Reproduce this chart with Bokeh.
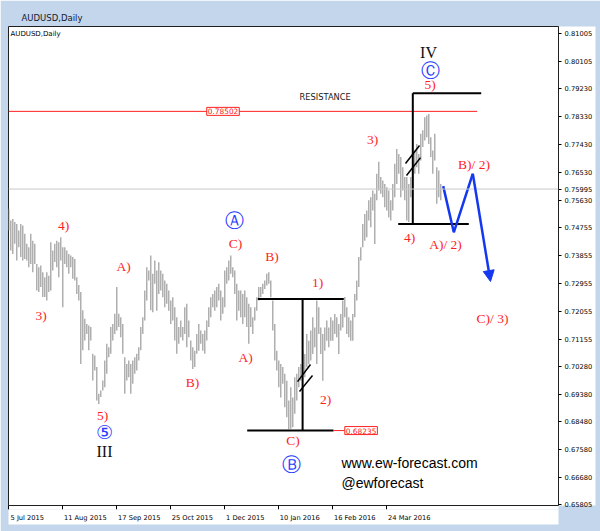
from bokeh.plotting import figure
from bokeh.models import (Range1d, FixedTicker, PrintfTickFormatter, Label, LinearAxis,
                          Arrow, NormalHead, ColumnDataSource, Span)
from bokeh.core.properties import value
from bokeh.embed import file_html
from bokeh.resources import INLINE

# ---------------- data (AUDUSD daily bars) ----------------
highs_1 = [0.7536, 0.7498, 0.7503, 0.7493, 0.7487, 0.7466, 0.7487, 0.7482, 0.7455, 0.7423,
           0.7412, 0.7455, 0.7433, 0.7423, 0.7358, 0.7347, 0.7353, 0.7331, 0.7315, 0.7331,
           0.7320, 0.7428, 0.7401, 0.7423, 0.7433, 0.7428, 0.7444, 0.7412, 0.7412, 0.7401,
           0.7390, 0.7385, 0.7380, 0.7374, 0.7315, 0.7290, 0.7267, 0.7208, 0.7181, 0.7164,
           0.7159, 0.7154, 0.7068, 0.7062, 0.7025, 0.6939, 0.6949, 0.6982, 0.7046, 0.7100,
           0.7089, 0.7154, 0.7164, 0.7197, 0.7283, 0.7197, 0.7186, 0.7164, 0.7057, 0.7035,
           0.7046, 0.7035, 0.7046, 0.7057, 0.7068, 0.7089, 0.7154, 0.7186, 0.7272, 0.7347,
           0.7337, 0.7385, 0.7326, 0.7369]
lows_1 = [0.7466, 0.7401, 0.7390, 0.7423, 0.7369, 0.7412, 0.7380, 0.7369, 0.7374, 0.7369,
          0.7347, 0.7358, 0.7331, 0.7358, 0.7272, 0.7267, 0.7283, 0.7251, 0.7251, 0.7240,
          0.7267, 0.7272, 0.7337, 0.7364, 0.7347, 0.7315, 0.7369, 0.7218, 0.7358, 0.7347,
          0.7326, 0.7347, 0.7310, 0.7304, 0.7261, 0.7240, 0.7035, 0.7079, 0.7111, 0.7132,
          0.7079, 0.7111, 0.6982, 0.7014, 0.6917, 0.6906, 0.6928, 0.6949, 0.6960, 0.7003,
          0.7057, 0.7068, 0.7111, 0.7132, 0.7143, 0.7154, 0.7121, 0.7068, 0.6939, 0.6982,
          0.6992, 0.6939, 0.6971, 0.7003, 0.7014, 0.7046, 0.7079, 0.7132, 0.7175, 0.7240,
          0.7304, 0.7208, 0.7202, 0.7294]
highs_2 = [0.7337, 0.7363, 0.7337, 0.7326, 0.7304, 0.7294, 0.7272, 0.7240, 0.7250, 0.7218,
           0.7186, 0.7154, 0.7175, 0.7154, 0.7218, 0.7229, 0.7175, 0.7111, 0.7089, 0.7078,
           0.7132, 0.7164, 0.7143, 0.7132, 0.7143, 0.7175, 0.7218, 0.7250, 0.7261, 0.7272,
           0.7283, 0.7294, 0.7272, 0.7250, 0.7337, 0.7347, 0.7369, 0.7385, 0.7347, 0.7337,
           0.7294, 0.7272, 0.7272, 0.7261, 0.7272, 0.7250, 0.7229, 0.7218, 0.7186, 0.7218,
           0.7250, 0.7283, 0.7283, 0.7294, 0.7304, 0.7326, 0.7331, 0.7304, 0.7240, 0.7164,
           0.7078, 0.7046, 0.7035, 0.7025, 0.7003, 0.6981, 0.6917, 0.6960, 0.6927, 0.6992,
           0.7003, 0.7025, 0.7035, 0.7078]
lows_2 = [0.7207, 0.7261, 0.7272, 0.7250, 0.7218, 0.7229, 0.7207, 0.7164, 0.7175, 0.7111,
          0.7068, 0.7100, 0.7121, 0.7111, 0.7132, 0.7089, 0.7121, 0.7046, 0.7019, 0.7025,
          0.7068, 0.7078, 0.7100, 0.7078, 0.7068, 0.7111, 0.7154, 0.7186, 0.7218, 0.7207,
          0.7218, 0.7240, 0.7175, 0.7197, 0.7218, 0.7294, 0.7304, 0.7326, 0.7315, 0.7261,
          0.7175, 0.7207, 0.7186, 0.7164, 0.7186, 0.7154, 0.7100, 0.7154, 0.7132, 0.7175,
          0.7207, 0.7240, 0.7250, 0.7261, 0.7277, 0.7288, 0.7294, 0.7250, 0.7143, 0.7046,
          0.7014, 0.6960, 0.6927, 0.6971, 0.6895, 0.6863, 0.6824, 0.6826, 0.6831, 0.6874,
          0.6917, 0.6960, 0.6981, 0.7003]
highs_3 = [0.7067, 0.7132, 0.7110, 0.7143, 0.7186, 0.7153, 0.7240, 0.7218, 0.7153, 0.7132,
           0.7153, 0.7175, 0.7153, 0.7186, 0.7175, 0.7196, 0.7186, 0.7164, 0.7196, 0.7240,
           0.7251, 0.7218, 0.7186, 0.7175, 0.7196, 0.7261, 0.7304, 0.7380, 0.7412, 0.7487,
           0.7519, 0.7530, 0.7563, 0.7573, 0.7595, 0.7584, 0.7649, 0.7688, 0.7638, 0.7627,
           0.7616, 0.7605, 0.7595, 0.7563, 0.7616, 0.7681, 0.7729, 0.7713, 0.7703, 0.7670,
           0.7638, 0.7638, 0.7616, 0.7638, 0.7692, 0.7724, 0.7745, 0.7713, 0.7778, 0.7789,
           0.7831, 0.7837, 0.7842, 0.7767, 0.7724, 0.7778, 0.7670, 0.7659, 0.7616]
lows_3 = [0.6992, 0.7024, 0.7035, 0.7046, 0.7067, 0.7089, 0.7035, 0.7132, 0.7067, 0.6981,
          0.7078, 0.7110, 0.7089, 0.7110, 0.7110, 0.7132, 0.7121, 0.7067, 0.7143, 0.7153,
          0.7186, 0.7132, 0.7121, 0.7110, 0.7110, 0.7186, 0.7240, 0.7283, 0.7369, 0.7412,
          0.7433, 0.7444, 0.7498, 0.7476, 0.7530, 0.7422, 0.7563, 0.7595, 0.7584, 0.7573,
          0.7541, 0.7530, 0.7508, 0.7498, 0.7530, 0.7573, 0.7616, 0.7649, 0.7573, 0.7595,
          0.7563, 0.7498, 0.7493, 0.7573, 0.7605, 0.7649, 0.7670, 0.7649, 0.7692, 0.7735,
          0.7756, 0.7767, 0.7745, 0.7703, 0.7649, 0.7692, 0.7552, 0.7573, 0.7563]

date_ticks = [0, 27, 54, 81, 108, 135, 162, 189]
date_labels = ["5 Jul 2015", "11 Aug 2015", "17 Sep 2015", "25 Oct 2015",
               "1 Dec 2015", "10 Jan 2016", "16 Feb 2016", "24 Mar 2016"]
price_ticks = [0.65805, 0.66680, 0.67580, 0.68480, 0.69380, 0.70280, 0.71155, 0.72055,
               0.72955, 0.73855, 0.74755, 0.75630, 0.76530, 0.77430, 0.78330, 0.79230,
               0.80105, 0.81005]
current_price = 0.75995
resistance = 0.78502
low_c_label = "0.68235"

# wave labels (bar index, price)
red_text = ["4)", "3)", "A)", "5)", "B)", "C)", "B)", "A)", "1)", "2)", "C)",
            "3)", "5)", "4)", "A)/ 2)", "B)/ 2)", "C)/ 3)"]
red_x = [27.35, 16.1, 57.35, 46.85, 91.85, 113.35, 131.6, 118.35, 154.35, 158.35, 142.1,
         181.85, 210.6, 200.35, 218.35, 232.6, 241.85]
red_y = [0.7482, 0.7190, 0.7350, 0.6869, 0.6975, 0.7425, 0.7382, 0.7057, 0.7298, 0.6919, 0.6788,
         0.7760, 0.7937, 0.7442, 0.7422, 0.7680, 0.7182]
circ_text = ["\u2464", "\u24b6", "\u24b7", "\u24b8"]
circ_x = [47.85, 112.85, 141.35, 210.6]
circ_y = [0.6814, 0.7501, 0.6711, 0.7985]
roman_text = ["III", "IV"]
roman_x = [47.85, 209.85]
roman_y = [0.6753, 0.8039]

# projected path (blue)
proj_x = [217.2, 222.5, 232.0]
proj_y = [0.7609, 0.7460, 0.7649]
proj_end = (240.85, 0.7301)

highs = highs_1 + highs_2 + highs_3
lows = lows_1 + lows_2 + lows_3
bar_index = list(range(len(highs)))

# ---------------- figure ----------------
UI = "DejaVu Sans"
SERIF = "Liberation Serif"
CHROME = "#c3d6ec"
X0, X1 = -0.15, 274.85
Y0, Y1 = 0.65782, 0.81241
FW, FH = 550, 479
PX_PER_BAR = FW / (X1 - X0)

p = figure(frame_width=FW, frame_height=FH, x_range=Range1d(X0, X1), y_range=Range1d(Y0, Y1),
           y_axis_location="right", output_backend="svg", toolbar_location=None,
           min_border_left=8, min_border_right=42, min_border_top=26, min_border_bottom=26,
           background_fill_color="white", border_fill_color="white",
           outline_line_color="#202020", outline_line_width=1,
           title="AUDUSD,Daily")
p.grid.visible = False
p.title.text_font = UI
p.title.text_font_size = "8.5px"
p.title.text_font_style = "normal"
p.title.text_color = "#102030"
p.title.align = "left"
p.title.offset = 13
p.title.standoff = 8

# chart caption inside the frame
p.add_layout(Label(x=X0, y=Y1, x_offset=2, y_offset=-7.5, text="AUDUSD,Daily", text_font=UI,
                   text_font_size="7px", text_baseline="middle", text_color="black"))

# current price line
p.add_layout(Span(location=current_price, dimension="width", line_color="#c8c8c8", line_width=1))

# bars
src = ColumnDataSource(dict(x=bar_index, high=highs, low=lows))
p.segment(x0="x", y0="low", x1="x", y1="high", source=src, line_color="#9c9c9c", line_width=1.2)

# resistance
p.segment(x0=[X0], y0=[resistance], x1=[234.2], y1=[resistance], line_color="#ff2020", line_width=1)
p.add_layout(Label(x=107.1, y=resistance, text="%.5f" % resistance, text_font=UI, text_font_size="7.4px",
                   text_align="center", text_baseline="middle", text_color="#ff2020",
                   background_fill_color="white", border_line_color="#ff2020", padding=1))
p.text(x=[158.2], y=[0.7898], text=["RESISTANCE"], text_font=value(UI), text_font_size="8.3px",
       text_align="center", text_baseline="middle", text_color="#202020")

# black structure lines
p.segment(x0=[124.5, 146.9, 119.2, 202.0, 202.0, 194.7],
          y0=[0.7245, 0.7245, 0.6820, 0.7909, 0.7909, 0.7487],
          x1=[167.5, 146.9, 162.35, 236.2, 202.0, 230.0],
          y1=[0.7245, 0.6820, 0.6820, 0.7909, 0.7487, 0.7487],
          line_color="black", line_width=2)
p.segment(x0=[144.35, 145.35, 198.35, 198.85], y0=[0.6978, 0.6946, 0.7682, 0.7643],
          x1=[150.85, 151.85, 205.35, 205.85], y1=[0.7033, 0.6998, 0.7740, 0.7701],
          line_color="black", line_width=1.5)
p.segment(x0=[162.35], y0=[0.6820], x1=[167.9], y1=[0.6820], line_color="#ff2020", line_width=1)
p.add_layout(Label(x=168.0, y=0.6820, text=low_c_label, text_font=UI, text_font_size="7.4px",
                   text_align="left", text_baseline="middle", text_color="#ff2020",
                   background_fill_color="white", border_line_color="#ff2020", padding=1))

# projection
blue = "#1438f0"
p.line(x=proj_x, y=proj_y, line_color=blue, line_width=2.5)
p.add_layout(Arrow(end=NormalHead(size=11, fill_color=blue, line_color=blue),
                   x_start=proj_x[-1], y_start=proj_y[-1], x_end=proj_end[0], y_end=proj_end[1],
                   line_color=blue, line_width=2.5))

# wave labels
p.text(x=red_x, y=red_y, text=red_text, text_font=value(SERIF), text_font_size="13.5px",
       text_align="center", text_baseline="middle", text_color="#ff1e1e")
p.text(x=circ_x, y=circ_y, text=circ_text, text_font=value(UI), text_font_size="19px",
       text_align="center", text_baseline="middle", text_color="#2a3cff")
p.text(x=roman_x, y=roman_y, text=roman_text, text_font=value(SERIF), text_font_size="16px",
       text_align="center", text_baseline="middle", text_color="#101010")

# watermark text
p.text(x=[166.35, 166.35], y=[0.6714, 0.6652], text=["www.ew-forecast.com", "@ewforecast"],
       text_font=value("Liberation Sans"), text_font_size="14px", text_align="left",
       text_baseline="middle", text_color="black")

# ---------------- axes ----------------
yax = p.yaxis[0]
yax.ticker = FixedTicker(ticks=price_ticks + [current_price])
yax.formatter = PrintfTickFormatter(format="%.5f")
yax.major_label_text_font = UI
yax.major_label_text_font_size = "6.7px"
yax.major_label_text_color = "black"
yax.major_tick_in = 0
yax.major_tick_out = 3
yax.minor_tick_line_color = None
yax.axis_line_color = "#202020"
yax.major_label_standoff = 3

# tick marks at the dates
xax = p.xaxis[0]
xax.ticker = FixedTicker(ticks=date_ticks)
xax.major_label_overrides = {t: "" for t in date_ticks}
xax.major_label_text_font_size = "0px"
xax.major_label_standoff = 0
xax.major_tick_in = 0
xax.major_tick_out = 4
xax.minor_tick_line_color = None
xax.axis_line_color = "#202020"

# date texts: start at their tick (MT4 style), so centre them half a label width to the right
label_half_px = [17.5, 21.5, 21.5, 20.5, 19.5, 20.0, 21.0, 21.5]
label_pos = [t + (h + 1.0) / PX_PER_BAR for t, h in zip(date_ticks, label_half_px)]
xlab = LinearAxis(ticker=FixedTicker(ticks=label_pos),
                  major_label_overrides={pos: s for pos, s in zip(label_pos, date_labels)},
                  major_label_text_font=UI, major_label_text_font_size="6.7px",
                  major_label_text_color="black", major_label_standoff=4,
                  major_tick_in=0, major_tick_out=0,
                  major_tick_line_color=None, minor_tick_line_color=None, axis_line_color=None)
p.add_layout(xlab, "below")

# window chrome colour in the margins, white behind the axes
try:
    for ax in (yax, xax, xlab):
        ax.background_fill_color = "white"
    p.border_fill_color = CHROME
except Exception:
    p.border_fill_color = "white"

open("out.html", "w").write(file_html(p, INLINE))
